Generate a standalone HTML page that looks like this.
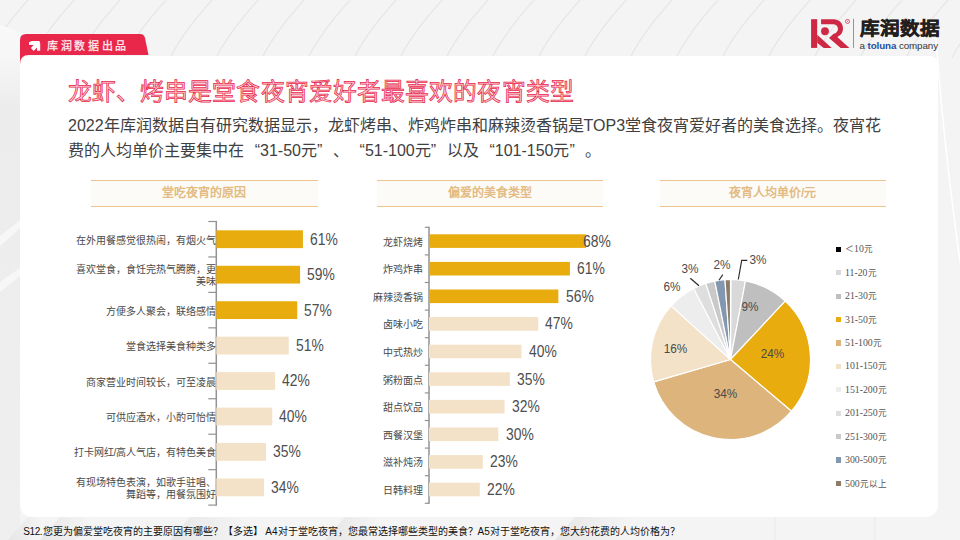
<!DOCTYPE html>
<html lang="zh-CN"><head><meta charset="utf-8"><title>slide</title>
<style>
html,body{margin:0;padding:0}
body{width:960px;height:540px;overflow:hidden;position:relative;background:#f4f4f4;font-family:"Liberation Sans",sans-serif;color:#404040}
.abs{position:absolute}
#bg{position:absolute;left:0;top:0}
#card{position:absolute;left:20px;top:55.5px;width:918px;height:461.5px;background:#fff;border-radius:9px 8px 12px 12px}
#tab{position:absolute;left:20px;top:34px}
#tabtxt{position:absolute;left:47px;top:40.2px;font-size:11px;line-height:12px;color:#fdeff1;letter-spacing:2.7px;white-space:nowrap;-webkit-text-stroke:0.25px #fdeff1}
#title{position:absolute;left:67.8px;top:75.7px;font-size:23.8px;line-height:32px;color:#fbd0d8;-webkit-text-stroke:0.75px #e8274b;white-space:nowrap;letter-spacing:0.1px}
#para{position:absolute;left:68px;top:113px;width:830px;font-size:16px;line-height:25px;color:#404040;white-space:nowrap}
.ql,.qr{display:inline-block;width:16px}.ql{text-align:right}.qr{text-align:left}
.hd{position:absolute;height:27px;padding-top:0.9px;box-sizing:border-box;border-top:1.5px solid #ecc48c;border-bottom:1.5px solid #ecc48c;background:#fdfbf8;color:#e3bb83;font-size:12px;line-height:24px;text-align:center;font-weight:bold}
.ax{position:absolute;width:1px;background:#8c8c8c}
.tk{position:absolute;width:8px;height:1px;background:#8c8c8c}
.bar{position:absolute}
.val{position:absolute;font-size:15.6px;line-height:20px;color:#4e4e4e;white-space:nowrap;transform:scaleX(0.89);transform-origin:0 50%}
.cat{position:absolute;display:flex;align-items:center;justify-content:flex-end;text-align:right;font-size:10px;line-height:12px;color:#4a4a4a;white-space:nowrap}
.lg{position:absolute;left:845px;font-size:8.6px;line-height:12px;color:#555;white-space:nowrap}
.lg b{font-family:"Liberation Serif",serif;font-weight:normal;font-size:9.8px}
.lm{position:absolute;left:836.2px;width:5.2px;height:5.2px}
.pl{position:absolute;font-size:12.5px;line-height:14px;color:#4a4a4a;white-space:nowrap;transform:scaleX(0.94);transform-origin:50% 50%}
#foot{position:absolute;left:23.3px;top:525px;font-size:10px;line-height:14px;color:#111;white-space:nowrap}
</style></head><body>
<svg id="bg" width="960" height="540" viewBox="0 0 960 540">
<g fill="none" stroke="#e6e6e6" stroke-width="1.2">
<path d="M-60 58 C-50 38 -38 22 -17 -1" />
<path d="M-14 58 C-4 38 8 22 29 -1" />
<path d="M32 58 C42 38 54 22 75 -1" />
<path d="M78 58 C88 38 100 22 121 -1" />
<path d="M124 58 C134 38 146 22 167 -1" />
<path d="M170 58 C180 38 192 22 213 -1" />
<path d="M216 58 C226 38 238 22 259 -1" />
<path d="M262 58 C272 38 284 22 305 -1" />
<path d="M308 58 C318 38 330 22 351 -1" />
<path d="M354 58 C364 38 376 22 397 -1" />
<path d="M400 58 C410 38 422 22 443 -1" />
<path d="M446 58 C456 38 468 22 489 -1" />
<path d="M492 58 C502 38 514 22 535 -1" />
<path d="M538 58 C548 38 560 22 581 -1" />
<path d="M584 58 C594 38 606 22 627 -1" />
<path d="M630 58 C640 38 652 22 673 -1" />
<path d="M676 58 C686 38 698 22 719 -1" />
<path d="M722 58 C732 38 744 22 765 -1" />
<path d="M768 58 C778 38 790 22 811 -1" />
<path d="M814 58 C824 38 836 22 857 -1" />
<path d="M860 58 C870 38 882 22 903 -1" />
<path d="M906 58 C916 38 928 22 949 -1" />
<path d="M952 58 C962 38 974 22 995 -1" />
<path d="M998 58 C1008 38 1020 22 1041 -1" />
<path d="M1044 58 C1054 38 1066 22 1087 -1" />
</g>
<defs><linearGradient id="g1" x1="0" x2="1" y1="0" y2="0"><stop offset="0" stop-color="#e6e6e6"/><stop offset="1" stop-color="#f6f6f6"/></linearGradient><linearGradient id="g2" gradientUnits="userSpaceOnUse" x1="0" x2="0" y1="25" y2="540"><stop offset="0" stop-color="#f9f9f9"/><stop offset="0.07" stop-color="#f6f6f6"/><stop offset="0.16" stop-color="#ececec"/><stop offset="1" stop-color="#efefef"/></linearGradient></defs>
<path d="M0 25 L22 33 L60 34 V56 H20 V540 H0Z" fill="url(#g2)"/>
<g fill="#f7f7f7">
<path d="M0 236 L20 220 L20 228 L0 246Z"/>
<path d="M0 282 L20 268 L20 276 L0 292Z"/>
</g>
<g fill="url(#g1)">
<path d="M8 540 L28 517 L48 517 L28 540Z"/>
<path d="M40 540 L60 517 L95 517 L75 540Z"/>
<path d="M170 540 L190 517 L255 517 L235 540Z"/>
<path d="M325 540 L345 517 L385 517 L365 540Z"/>
<path d="M555 540 L575 517 L640 517 L620 540Z"/>
</g>
<path d="M936 36 Q942 130 960 262" stroke="#fff" stroke-width="1.5" fill="none"/>
<path d="M775 517 V540 M875 517 V540" stroke="#e9e9e9" stroke-width="1" fill="none"/>
</svg>
<div id="card"></div>
<svg id="tab" width="135" height="30" viewBox="0 0 135 30"><path d="M0 30 V6 Q0 0 6 0 H120 Q124 0 125 4 L128.5 21 H9 Q0 21 0 30Z" fill="#e8274b"/>
<path d="M9 8.3 L12 7 H19.4 L20.2 9.5 V16.8 H17 V13.6 L13.6 17.1 L10.9 14 L13.6 11 H9 Z" fill="#fff"/></svg>
<div id="tabtxt">库润数据出品</div>

<!-- logo -->
<svg class="abs" style="left:804px;top:10px" width="60" height="45" viewBox="0 0 720 540">
<g fill="#cf2845">
<path d="M85 110 H158 V455 H85Z"/>
<path d="M158 298 L332 455 H236 L158 392Z"/>
<path d="M205 110 H365 A112 112 0 0 1 400 325 L545 455 H440 L300 335 L355 285 A52 52 0 0 0 345 170 H205Z"/>
<circle cx="252" cy="255" r="47"/>
</g>
<circle cx="522" cy="137" r="24" fill="none" stroke="#cf2845" stroke-width="9"/>
<circle cx="522" cy="137" r="7" fill="#cf2845" opacity="0.6"/>
<rect x="590" y="105" width="8" height="350" fill="#666"/>
</svg>
<div class="abs" style="left:859.8px;top:16.2px;font-size:19.6px;line-height:24px;font-weight:bold;color:#231f20;white-space:nowrap;letter-spacing:0.05px;-webkit-text-stroke:0.5px #231f20;transform:scaleY(0.93);transform-origin:0 50%">库润数据</div>
<div class="abs" style="left:859.5px;top:39.5px;font-size:9.8px;line-height:12px;color:#333;white-space:nowrap;letter-spacing:-0.1px">a <b style="color:#1f4fa3">toluna</b> company</div>

<div id="title">龙虾、烤串是堂食夜宵爱好者最喜欢的夜宵类型</div>
<div id="para">2022年库润数据自有研究数据显示，龙虾烤串、炸鸡炸串和麻辣烫香锅是TOP3堂食夜宵爱好者的美食选择。夜宵花<br>费的人均单价主要集中在<span class="ql">“</span>31-50元<span class="qr">”</span>、<span class="ql">“</span>51-100元<span class="qr">”</span>以及<span class="ql">“</span>101-150元<span class="qr">”</span>。</div>

<div class="hd" style="left:91px;top:179.6px;width:226.5px">堂吃夜宵的原因</div>
<div class="hd" style="left:376.7px;top:179.6px;width:226px">偏爱的美食类型</div>
<div class="hd" style="left:659.5px;top:179.6px;width:226.5px">夜宵人均单价/元</div>

<svg class="abs" style="left:0;top:0" width="960" height="540" viewBox="0 0 960 540"><rect x="215.55" y="220.90" width="1.5" height="284.80" fill="#939393"/>
<rect x="208.30" y="220.90" width="8" height="1.2" fill="#939393"/>
<rect x="208.30" y="256.35" width="8" height="1.2" fill="#939393"/>
<rect x="208.30" y="291.80" width="8" height="1.2" fill="#939393"/>
<rect x="208.30" y="327.25" width="8" height="1.2" fill="#939393"/>
<rect x="208.30" y="362.70" width="8" height="1.2" fill="#939393"/>
<rect x="208.30" y="398.15" width="8" height="1.2" fill="#939393"/>
<rect x="208.30" y="433.60" width="8" height="1.2" fill="#939393"/>
<rect x="208.30" y="469.05" width="8" height="1.2" fill="#939393"/>
<rect x="208.30" y="504.50" width="8" height="1.2" fill="#939393"/>
<rect x="216.30" y="230.32" width="86.62" height="17.8" fill="#e8ac0e"/>
<rect x="216.30" y="265.78" width="83.78" height="17.8" fill="#e8ac0e"/>
<rect x="216.30" y="301.23" width="80.94" height="17.8" fill="#e8ac0e"/>
<rect x="216.30" y="336.68" width="72.42" height="17.8" fill="#f3e2c7"/>
<rect x="216.30" y="372.12" width="58.79" height="17.8" fill="#f3e2c7"/>
<rect x="216.30" y="407.58" width="55.95" height="17.8" fill="#f3e2c7"/>
<rect x="216.30" y="443.03" width="49.70" height="17.8" fill="#f3e2c7"/>
<rect x="216.30" y="478.48" width="47.71" height="17.8" fill="#f3e2c7"/></svg>
<div class="val" style="left:310.12px;top:229.62px">61%</div>
<div class="cat" style="left:16.30000000000001px;width:200px;top:220.72px;height:40px"><span>在外用餐感觉很热闹，有烟火气</span></div>
<div class="val" style="left:307.28px;top:265.07px">59%</div>
<div class="cat" style="left:16.30000000000001px;width:200px;top:256.18px;height:40px"><span>喜欢堂食，食饪完热气腾腾，更<br>美味</span></div>
<div class="val" style="left:304.44px;top:300.52px">57%</div>
<div class="cat" style="left:16.30000000000001px;width:200px;top:291.62px;height:40px"><span>方便多人聚会，联络感情</span></div>
<div class="val" style="left:295.92px;top:335.98px">51%</div>
<div class="cat" style="left:16.30000000000001px;width:200px;top:327.08px;height:40px"><span>堂食选择美食种类多</span></div>
<div class="val" style="left:282.29px;top:371.42px">42%</div>
<div class="cat" style="left:16.30000000000001px;width:200px;top:362.52px;height:40px"><span>商家营业时间较长，可至凌晨</span></div>
<div class="val" style="left:279.45px;top:406.88px">40%</div>
<div class="cat" style="left:16.30000000000001px;width:200px;top:397.98px;height:40px"><span>可供应酒水，小酌可怡情</span></div>
<div class="val" style="left:273.20px;top:442.32px">35%</div>
<div class="cat" style="left:16.30000000000001px;width:200px;top:433.43px;height:40px"><span>打卡网红/高人气店，有特色美食</span></div>
<div class="val" style="left:271.21px;top:477.77px">34%</div>
<div class="cat" style="left:16.30000000000001px;width:200px;top:468.88px;height:40px"><span>有现场特色表演，如歌手驻唱、<br>舞蹈等，用餐氛围好</span></div>
<svg class="abs" style="left:0;top:0" width="960" height="540" viewBox="0 0 960 540"><rect x="428.25" y="226.70" width="1.5" height="277.20" fill="#939393"/>
<rect x="424.80" y="226.70" width="4.2" height="1.2" fill="#939393"/>
<rect x="424.80" y="254.30" width="4.2" height="1.2" fill="#939393"/>
<rect x="424.80" y="281.90" width="4.2" height="1.2" fill="#939393"/>
<rect x="424.80" y="309.50" width="4.2" height="1.2" fill="#939393"/>
<rect x="424.80" y="337.10" width="4.2" height="1.2" fill="#939393"/>
<rect x="424.80" y="364.70" width="4.2" height="1.2" fill="#939393"/>
<rect x="424.80" y="392.30" width="4.2" height="1.2" fill="#939393"/>
<rect x="424.80" y="419.90" width="4.2" height="1.2" fill="#939393"/>
<rect x="424.80" y="447.50" width="4.2" height="1.2" fill="#939393"/>
<rect x="424.80" y="475.10" width="4.2" height="1.2" fill="#939393"/>
<rect x="424.80" y="502.70" width="4.2" height="1.2" fill="#939393"/>
<rect x="429.00" y="234.30" width="157.08" height="13.6" fill="#e8ac0e"/>
<rect x="429.00" y="261.90" width="140.91" height="13.6" fill="#e8ac0e"/>
<rect x="429.00" y="289.50" width="129.36" height="13.6" fill="#e8ac0e"/>
<rect x="429.00" y="317.10" width="109.26" height="13.6" fill="#f3e2c7"/>
<rect x="429.00" y="344.70" width="92.40" height="13.6" fill="#f3e2c7"/>
<rect x="429.00" y="372.30" width="80.85" height="13.6" fill="#f3e2c7"/>
<rect x="429.00" y="399.90" width="75.54" height="13.6" fill="#f3e2c7"/>
<rect x="429.00" y="427.50" width="69.30" height="13.6" fill="#f3e2c7"/>
<rect x="429.00" y="455.10" width="53.82" height="13.6" fill="#f3e2c7"/>
<rect x="429.00" y="482.70" width="50.82" height="13.6" fill="#f3e2c7"/></svg>
<div class="val" style="left:582.58px;top:231.50px">68%</div>
<div class="cat" style="left:222.5px;width:200px;top:222.60px;height:40px"><span>龙虾烧烤</span></div>
<div class="val" style="left:577.11px;top:259.10px">61%</div>
<div class="cat" style="left:222.5px;width:200px;top:250.20px;height:40px"><span>炸鸡炸串</span></div>
<div class="val" style="left:565.56px;top:286.70px">56%</div>
<div class="cat" style="left:222.5px;width:200px;top:277.80px;height:40px"><span>麻辣烫香锅</span></div>
<div class="val" style="left:545.46px;top:314.30px">47%</div>
<div class="cat" style="left:222.5px;width:200px;top:305.40px;height:40px"><span>卤味小吃</span></div>
<div class="val" style="left:528.60px;top:341.90px">40%</div>
<div class="cat" style="left:222.5px;width:200px;top:333.00px;height:40px"><span>中式热炒</span></div>
<div class="val" style="left:517.05px;top:369.50px">35%</div>
<div class="cat" style="left:222.5px;width:200px;top:360.60px;height:40px"><span>粥粉面点</span></div>
<div class="val" style="left:511.74px;top:397.10px">32%</div>
<div class="cat" style="left:222.5px;width:200px;top:388.20px;height:40px"><span>甜点饮品</span></div>
<div class="val" style="left:505.50px;top:424.70px">30%</div>
<div class="cat" style="left:222.5px;width:200px;top:415.80px;height:40px"><span>西餐汉堡</span></div>
<div class="val" style="left:490.02px;top:452.30px">23%</div>
<div class="cat" style="left:222.5px;width:200px;top:443.40px;height:40px"><span>滋补炖汤</span></div>
<div class="val" style="left:487.02px;top:479.90px">22%</div>
<div class="cat" style="left:222.5px;width:200px;top:471.00px;height:40px"><span>日韩料理</span></div>

<svg class="abs" style="left:0;top:0" width="960" height="540" viewBox="0 0 960 540">
<path d="M730.5 359.5L730.50 279.50A80 80 0 0 1 731.00 279.50Z" fill="#fff" stroke="#fff" stroke-width="1.2" stroke-linejoin="round"/>
<path d="M730.5 359.5L731.00 279.50A80 80 0 0 1 745.49 280.92Z" fill="#d9d9d9" stroke="#fff" stroke-width="1.2" stroke-linejoin="round"/>
<path d="M730.5 359.5L745.49 280.92A80 80 0 0 1 785.26 301.18Z" fill="#bfbfbf" stroke="#fff" stroke-width="1.2" stroke-linejoin="round"/>
<path d="M730.5 359.5L785.26 301.18A80 80 0 0 1 791.50 411.26Z" fill="#e8ac0e" stroke="#fff" stroke-width="1.2" stroke-linejoin="round"/>
<path d="M730.5 359.5L791.50 411.26A80 80 0 0 1 653.68 381.82Z" fill="#dcb47c" stroke="#fff" stroke-width="1.2" stroke-linejoin="round"/>
<path d="M730.5 359.5L653.68 381.82A80 80 0 0 1 671.16 305.85Z" fill="#f3e2c7" stroke="#fff" stroke-width="1.2" stroke-linejoin="round"/>
<path d="M730.5 359.5L671.16 305.85A80 80 0 0 1 693.73 288.45Z" fill="#ededed" stroke="#fff" stroke-width="1.2" stroke-linejoin="round"/>
<path d="M730.5 359.5L693.73 288.45A80 80 0 0 1 705.78 283.42Z" fill="#dedede" stroke="#fff" stroke-width="1.2" stroke-linejoin="round"/>
<path d="M730.5 359.5L705.78 283.42A80 80 0 0 1 714.77 281.06Z" fill="#c9c9c9" stroke="#fff" stroke-width="1.2" stroke-linejoin="round"/>
<path d="M730.5 359.5L714.77 281.06A80 80 0 0 1 724.98 279.69Z" fill="#8497b0" stroke="#fff" stroke-width="1.2" stroke-linejoin="round"/>
<path d="M730.5 359.5L724.98 279.69A80 80 0 0 1 730.50 279.50Z" fill="#8c7b66" stroke="#fff" stroke-width="1.2" stroke-linejoin="round"/>
<g fill="none" stroke="#2a2a2a" stroke-width="1.15">
<path d="M690.3 278.3 L699 285.8"/>
<path d="M722.8 274.6 L719 280.2"/>
<path d="M747.3 260.3 L741.7 260.3 L738.3 279.5"/>
</g>
</svg>
<div class="pl" style="left:749px;top:253px">3%</div>
<div class="pl" style="left:713px;top:258px">2%</div>
<div class="pl" style="left:681px;top:262px">3%</div>
<div class="pl" style="left:663px;top:280px">6%</div>
<div class="pl" style="left:741px;top:300px">9%</div>
<div class="pl" style="left:760px;top:347px">24%</div>
<div class="pl" style="left:713px;top:387px">34%</div>
<div class="pl" style="left:663px;top:342px">16%</div>

<div class="lm" style="top:246.70px;background:#000"></div><div class="lg" style="top:243.30px">＜<b>10</b>元</div>
<div class="lm" style="top:270.12px;background:#d9d9d9"></div><div class="lg" style="top:266.72px"><b>11-20</b>元</div>
<div class="lm" style="top:293.54px;background:#bfbfbf"></div><div class="lg" style="top:290.14px"><b>21-30</b>元</div>
<div class="lm" style="top:316.96px;background:#e8ac0e"></div><div class="lg" style="top:313.56px"><b>31-50</b>元</div>
<div class="lm" style="top:340.38px;background:#dcb47c"></div><div class="lg" style="top:336.98px"><b>51-100</b>元</div>
<div class="lm" style="top:363.80px;background:#f3e2c7"></div><div class="lg" style="top:360.40px"><b>101-150</b>元</div>
<div class="lm" style="top:387.22px;background:#ededed"></div><div class="lg" style="top:383.82px"><b>151-200</b>元</div>
<div class="lm" style="top:410.64px;background:#dedede"></div><div class="lg" style="top:407.24px"><b>201-250</b>元</div>
<div class="lm" style="top:434.06px;background:#c9c9c9"></div><div class="lg" style="top:430.66px"><b>251-300</b>元</div>
<div class="lm" style="top:457.48px;background:#8497b0"></div><div class="lg" style="top:454.08px"><b>300-500</b>元</div>
<div class="lm" style="top:480.90px;background:#8c7b66"></div><div class="lg" style="top:477.50px"><b>500</b>元以上</div>

<div id="foot"><span style="letter-spacing:-0.45px">S12</span>.您更为偏爱堂吃夜宵的主要原因有哪些？【多选】 A4对于堂吃夜宵，您最常选择哪些类型的美食？A5对于堂吃夜宵，您大约花费的人均价格为？</div>
</body></html>
